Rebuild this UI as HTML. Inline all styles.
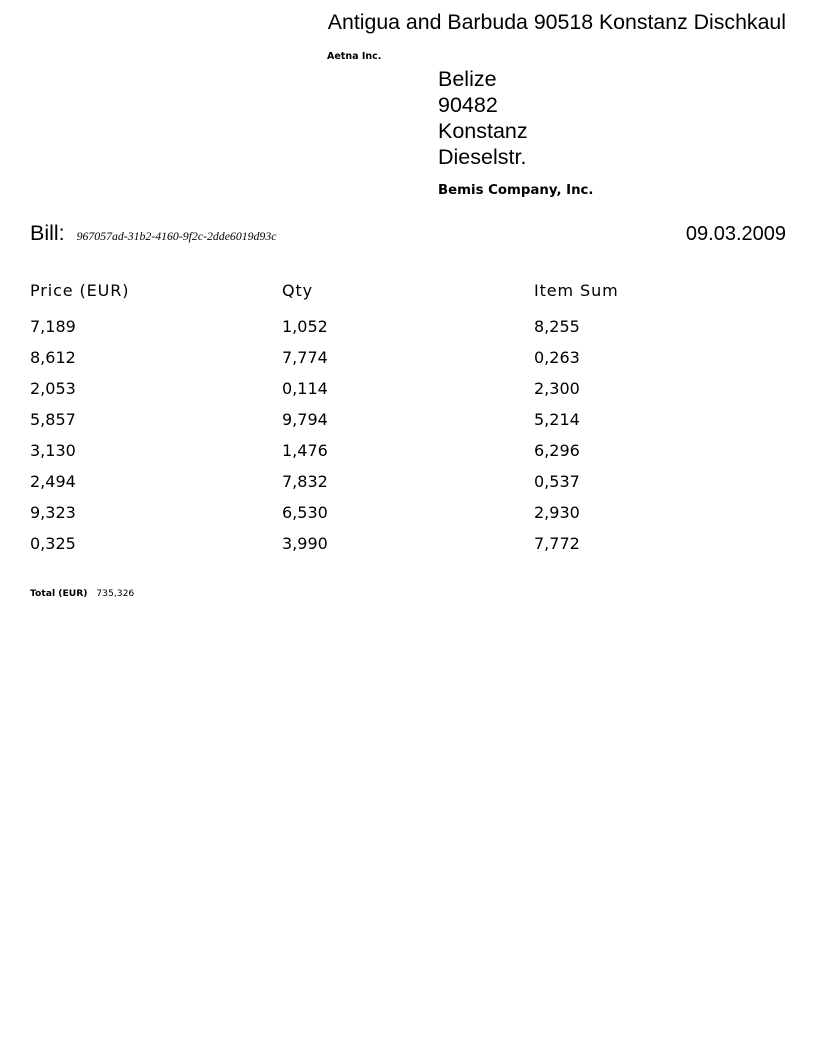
<!DOCTYPE html>
<html><head><meta charset="utf-8"><style>
body{margin:0;width:816px;height:1056px;background:#fff;position:relative;color:#000;overflow:hidden}
.a{position:absolute;white-space:nowrap;line-height:1}
.ar{font-family:"Liberation Sans",Arial,sans-serif;font-size:21.5px}
.dv{font-family:"DejaVu Sans",Verdana,sans-serif}
</style></head><body>
<div class="a ar" style="right:30px;top:12px;font-size:21.3px">Antigua and Barbuda 90518 Konstanz Dischkaul</div>
<div class="a dv" style="left:327px;top:52px;font-size:9.5px;font-weight:bold">Aetna Inc.</div>
<div class="a ar" style="left:438px;top:66px;line-height:26px">Belize<br>90482<br>Konstanz<br>Dieselstr.</div>
<div class="a dv" style="left:438px;top:184px;font-size:13.3px;font-weight:bold">Bemis Company, Inc.</div>
<div class="a ar" style="left:30px;top:223px">Bill:&nbsp; <span style="font-family:'Liberation Serif',serif;font-style:italic;font-size:11.8px">967057ad-31b2-4160-9f2c-2dde6019d93c</span></div>
<div class="a ar" style="right:30px;top:224px;font-size:20px">09.03.2009</div>
<div id="tbl"></div>
<div class="a dv" style="left:30px;top:589px;font-size:9.2px"><b>Total (EUR)</b>&nbsp;&nbsp;&nbsp;735,326</div>
<script>
const headers=["Price (EUR)","Qty","Item Sum"];
const prices=["7,189","8,612","2,053","5,857","3,130","2,494","9,323","0,325"];
const qtys=["1,052","7,774","0,114","9,794","1,476","7,832","6,530","3,990"];
const sums=["8,255","0,263","2,300","5,214","6,296","0,537","2,930","7,772"];
const cols=[prices,qtys,sums];
const t=document.getElementById('tbl');
function mk(txt,x,y,name,ls){const d=document.createElement('div');d.className='a dv';d.style.left=x+'px';d.style.top=y+'px';d.style.fontSize='16px';d.style.letterSpacing=ls+'px';d.textContent=txt;


t.appendChild(d);}
headers.forEach((h,c)=>mk(h,30+252*c,283,'column-header',0.9));
cols.forEach((col,c)=>col.forEach((v,i)=>mk(v,30+252*c,319+31*i,'table-cell',0)));
</script>
</body></html>
